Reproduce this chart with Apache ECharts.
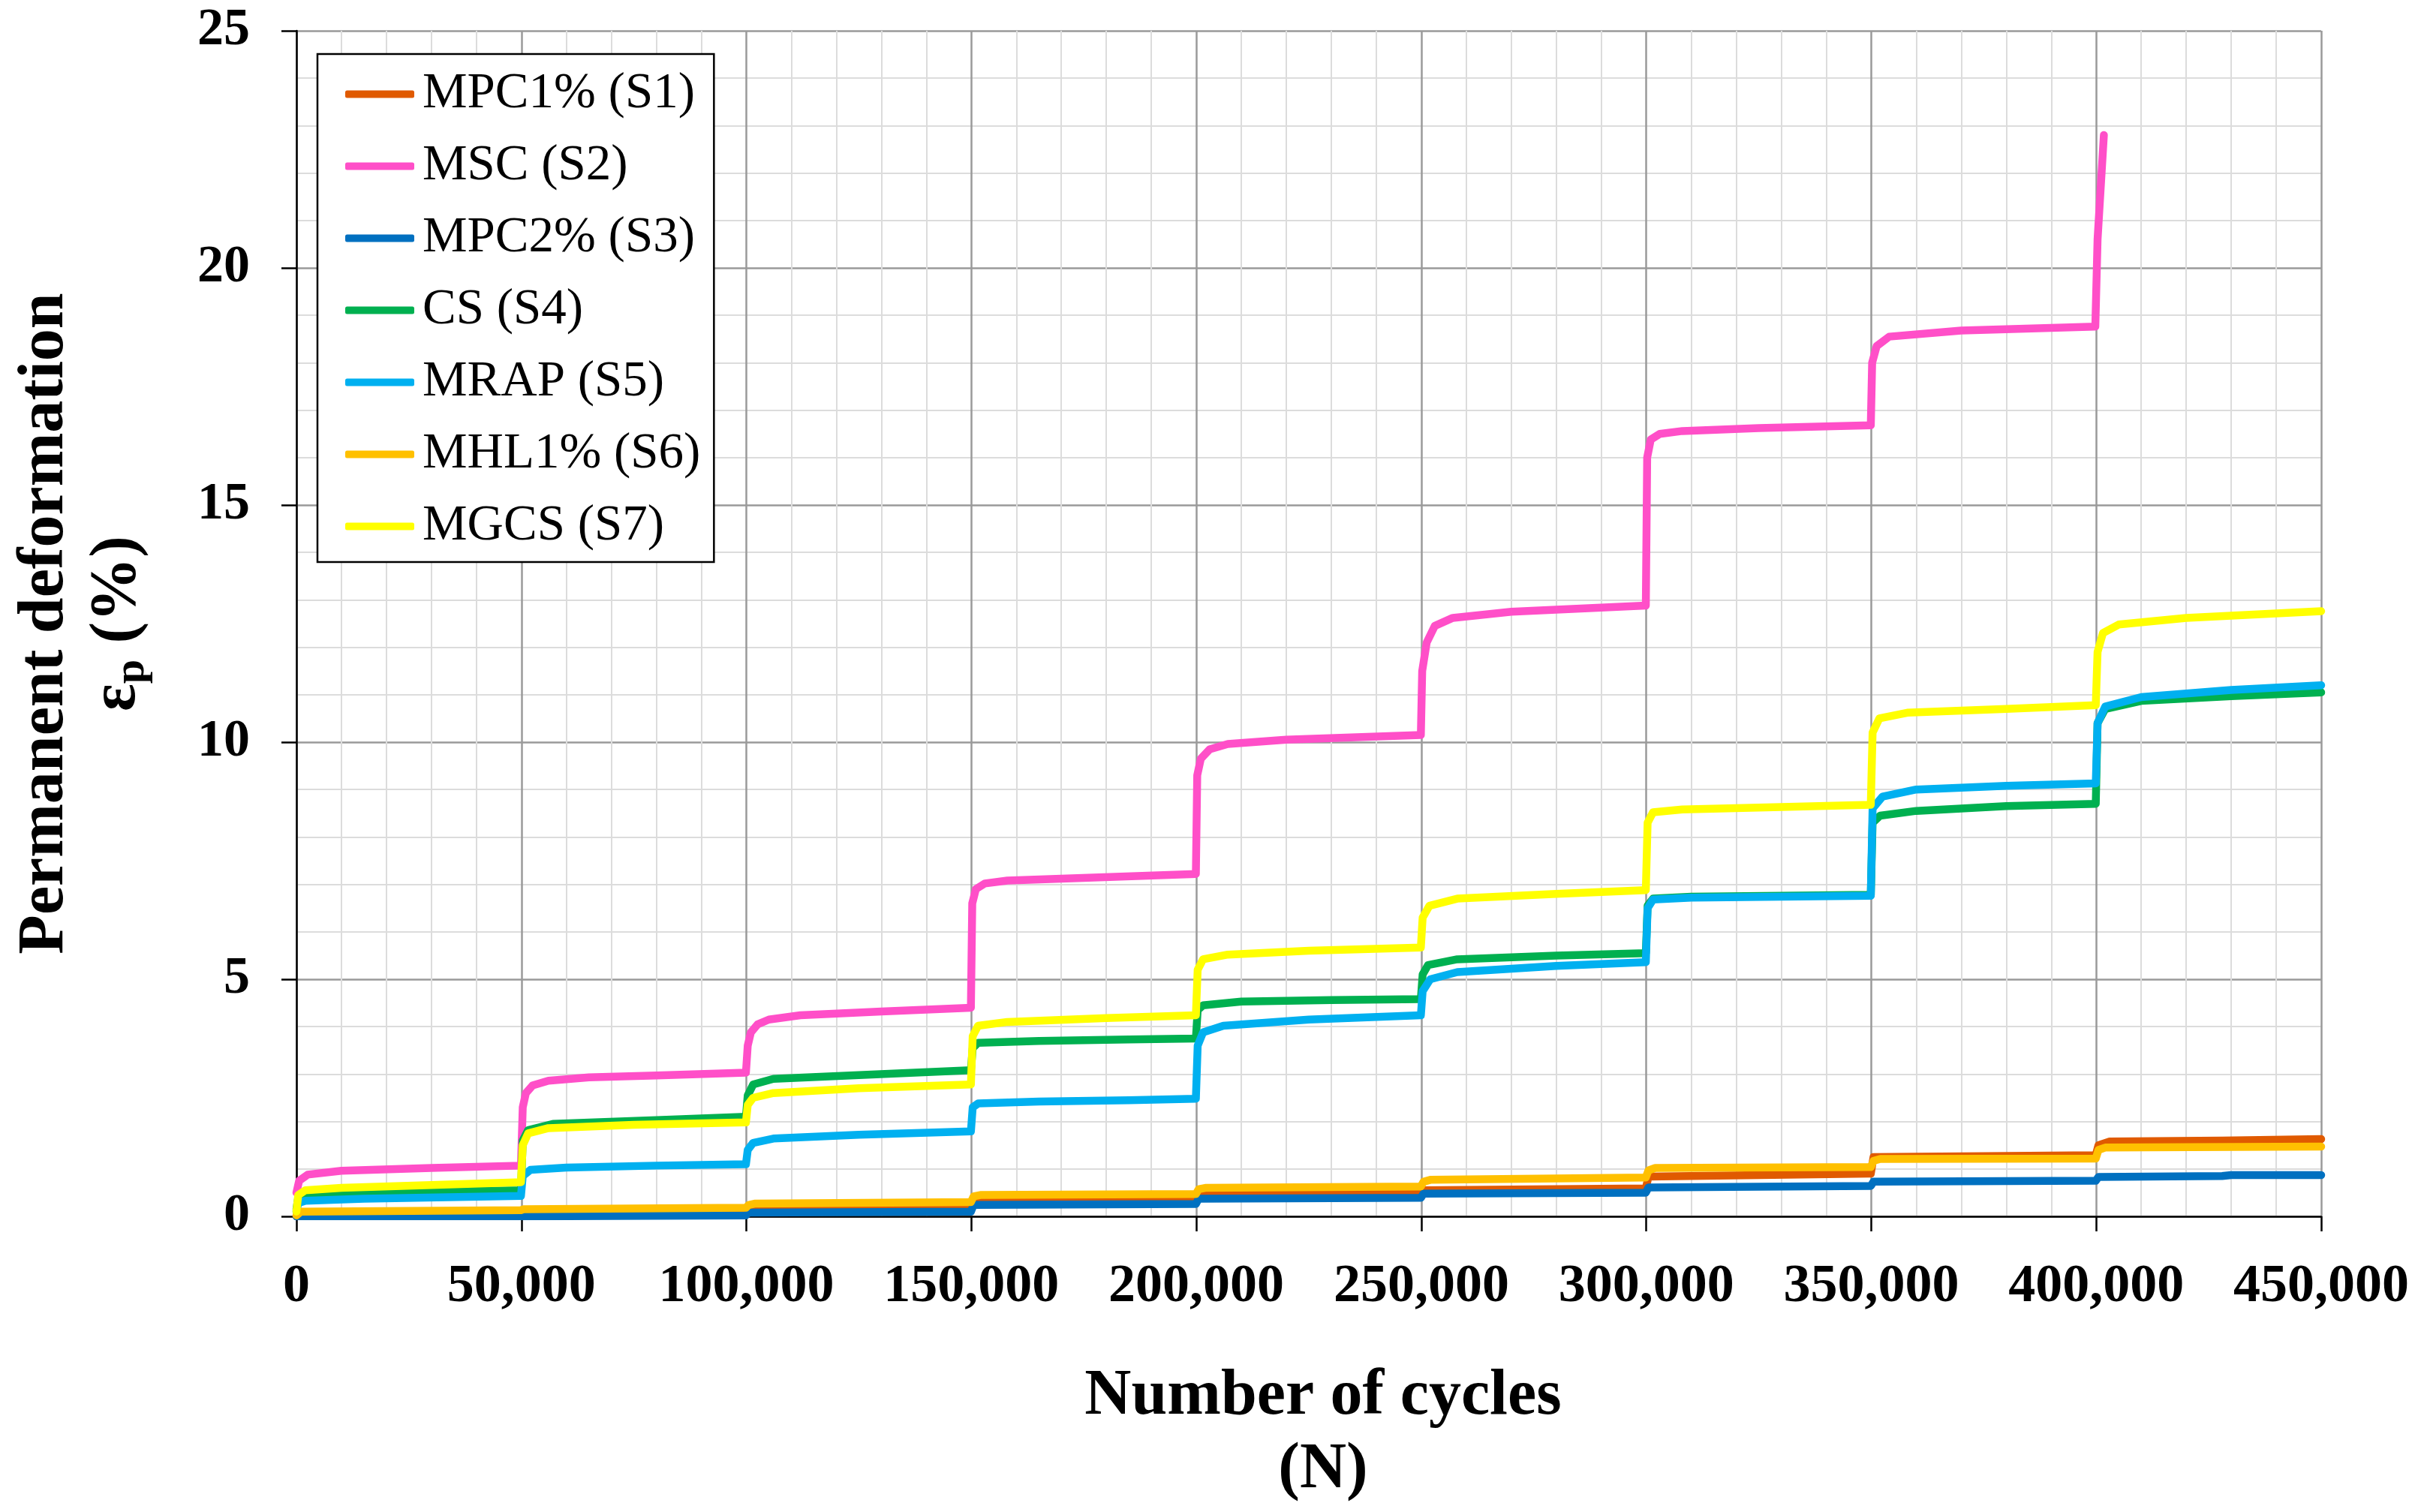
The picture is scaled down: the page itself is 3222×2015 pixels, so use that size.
<!DOCTYPE html>
<html>
<head>
<meta charset="utf-8">
<script src="https://cdn.jsdelivr.net/npm/echarts@6/dist/echarts.min.js"></script>
<style>
html,body{margin:0;padding:0;background:#fff;}
#chart{width:3222px;height:2015px;}
</style>
</head>
<body>
<div id="chart"></div>
<script>
// ---- data (N cycles, permanent deformation %) ----
const seriesNames = ['MPC1% (S1)', 'MSC (S2)', 'MPC2% (S3)', 'CS (S4)', 'MRAP (S5)', 'MHL1% (S6)', 'MGCS (S7)'];
const xTicks = [0, 50000, 100000, 150000, 200000, 250000, 300000, 350000, 400000, 450000];
const yTicks = [0, 5, 10, 15, 20, 25];

const mpc1 = [[0,0.0],[1000,0.06],[49900,0.08],[50500,0.1],[99900,0.12],[100500,0.18],[149900,0.22],
  [150500,0.33],[199900,0.36],[200500,0.45],[249900,0.48],[250500,0.55],[299900,0.59],
  [300500,0.84],[349900,0.9],[350500,1.25],[399900,1.29],[400500,1.5],[403000,1.58],[428000,1.6],[450000,1.63]];

const msc = [[0,0.5],[600,0.75],[2500,0.88],[10000,0.96],[30000,1.02],[49900,1.07],
  [50300,2.3],[51000,2.6],[52500,2.76],[56000,2.86],[65000,2.93],[80000,2.97],[99900,3.03],
  [100300,3.6],[101000,3.88],[102500,4.05],[105000,4.15],[112000,4.24],[130000,4.32],[149900,4.4],
  [150200,6.6],[151000,6.9],[153000,7.02],[158000,7.08],[170000,7.12],[199900,7.22],
  [200200,9.3],[201000,9.65],[203000,9.85],[207000,9.96],[220000,10.05],[249900,10.15],
  [250200,11.5],[251200,12.1],[253000,12.45],[257000,12.62],[270000,12.75],[299900,12.88],
  [300200,16.0],[301000,16.38],[303000,16.5],[308000,16.56],[325000,16.62],[349900,16.68],
  [350200,18.0],[351200,18.35],[354000,18.55],[370000,18.68],[399800,18.76],
  [400300,20.6],[401700,22.8]];

const mpc2 = [[0,0.0],[49900,0.0],[50500,0.0],[99900,0.02],[100500,0.08],[149900,0.1],
  [150500,0.24],[199900,0.26],[200500,0.37],[249900,0.39],[250500,0.48],[299900,0.5],
  [300500,0.61],[349900,0.64],[350500,0.73],[399900,0.75],[400500,0.83],[428000,0.85],[430000,0.87],[450000,0.87]];

const cs = [[0,0.15],[400,0.4],[2000,0.45],[15000,0.5],[49900,0.55],
  [50300,1.6],[51500,1.82],[57000,1.95],[80000,2.03],[99900,2.1],
  [100300,2.55],[101500,2.78],[106000,2.9],[125000,2.98],[149900,3.08],
  [150300,3.55],[151500,3.66],[165000,3.7],[185000,3.73],[199900,3.75],
  [200300,4.35],[201500,4.45],[210000,4.53],[230000,4.56],[249900,4.58],
  [250300,5.1],[251500,5.3],[258000,5.42],[280000,5.5],[299900,5.55],
  [300300,6.55],[301500,6.7],[310000,6.74],[330000,6.76],[349900,6.78],
  [350300,8.3],[352000,8.45],[360000,8.55],[380000,8.65],[399900,8.7],
  [400300,10.4],[402000,10.7],[410000,10.87],[430000,10.97],[450000,11.05]];

const mrap = [[0,0.1],[400,0.28],[2000,0.33],[15000,0.37],[49900,0.43],
  [50300,0.85],[52000,0.98],[60000,1.03],[80000,1.07],[99900,1.1],
  [100300,1.4],[101500,1.55],[106000,1.64],[125000,1.72],[149900,1.79],
  [150300,2.3],[151500,2.38],[165000,2.42],[185000,2.45],[199900,2.48],
  [200300,3.6],[201500,3.88],[206000,4.02],[225000,4.15],[249900,4.24],
  [250300,4.75],[252000,5.0],[258000,5.15],[280000,5.28],[299900,5.36],
  [300300,6.5],[301500,6.68],[310000,6.72],[330000,6.74],[349900,6.76],
  [350300,8.6],[352500,8.85],[360000,9.0],[380000,9.08],[399900,9.13],
  [400300,10.4],[402000,10.75],[410000,10.95],[430000,11.1],[450000,11.2]];

const mhl1 = [[0,0.02],[1000,0.1],[49900,0.13],[50500,0.15],[99900,0.18],
  [100500,0.24],[102000,0.27],[149900,0.3],[150500,0.42],[152000,0.45],[199900,0.47],
  [200500,0.57],[202000,0.6],[249900,0.63],[250500,0.73],[252000,0.77],[299900,0.82],
  [300500,0.97],[302000,1.02],[349900,1.04],[350500,1.17],[352000,1.21],[399900,1.22],
  [400500,1.4],[402000,1.45],[450000,1.47]];

const mgcs = [[0,0.1],[400,0.45],[2000,0.55],[10000,0.6],[30000,0.66],[49900,0.72],
  [50300,1.5],[51500,1.75],[56000,1.86],[75000,1.93],[99900,1.98],
  [100300,2.35],[101500,2.5],[106000,2.6],[125000,2.7],[149900,2.78],
  [150300,3.8],[151500,4.02],[158000,4.1],[180000,4.18],[199900,4.24],
  [200300,5.2],[201500,5.42],[207000,5.52],[225000,5.6],[249900,5.67],
  [250300,6.3],[251800,6.55],[258000,6.7],[280000,6.8],[299900,6.88],
  [300300,8.3],[301500,8.52],[308000,8.58],[330000,8.63],[349900,8.68],
  [350300,10.2],[351800,10.5],[358000,10.62],[380000,10.7],[399900,10.78],
  [400300,11.9],[401500,12.3],[405000,12.48],[420000,12.62],[450000,12.76]];

const seriesData = [mpc1, msc, mpc2, cs, mrap, mhl1, mgcs];
const seriesColors = ['#E05A00', '#FF4FC8', '#0070C0', '#00B050', '#00B0F0', '#FFC000', '#FFFF00'];

const FONT = 'Liberation Serif';

function fmtThousands(v) {
  return String(Math.round(v)).replace(/\B(?=(\d{3})+(?!\d))/g, ',');
}

const chart = echarts.init(document.getElementById('chart'), null, {renderer: 'canvas'});

const option = {
  animation: false,
  backgroundColor: '#ffffff',
  grid: {left: 395, right: 129, top: 41, bottom: 394, containLabel: false},
  legend: {
    show: true,
    orient: 'vertical',
    left: 423,
    top: 72,
    data: seriesNames,
    icon: 'roundRect',
    itemWidth: 92,
    itemHeight: 10,
    itemGap: 29,
    padding: [20, 18, 14, 37],
    backgroundColor: '#ffffff',
    borderColor: '#000000',
    borderWidth: 2.5,
    borderRadius: 0,
    textStyle: {fontFamily: FONT, fontSize: 67, color: '#000', padding: [0, 0, 0, 6]}
  },
  xAxis: {
    type: 'value',
    min: 0,
    max: 450000,
    interval: 50000,
    name: 'Number of cycles\n(N)',
    nameLocation: 'middle',
    nameGap: 192,
    nameTextStyle: {fontFamily: FONT, fontSize: 86, fontWeight: 'bold', color: '#000', lineHeight: 98, padding: [0, 0, 0, 38]},
    axisLine: {show: true, onZero: false, lineStyle: {color: '#000', width: 2.5}},
    axisTick: {show: true, inside: false, length: 20, lineStyle: {color: '#000', width: 2.5}},
    axisLabel: {
      margin: 58,
      fontFamily: FONT, fontSize: 72, fontWeight: 'bold', color: '#000',
      formatter: function (v) { return fmtThousands(v); }
    },
    splitLine: {show: true, lineStyle: {color: '#9a9a9a', width: 2.5}},
    minorTick: {show: false, splitNumber: 5},
    minorSplitLine: {show: true, lineStyle: {color: '#dcdcdc', width: 2}}
  },
  yAxis: {
    type: 'value',
    min: 0,
    max: 25,
    interval: 5,
    name: '{t|Permanent deformation}\n{t|ε}{s|p}{t| (%)}',
    nameLocation: 'middle',
    nameRotate: 90,
    nameGap: 190,
    nameTextStyle: {
      fontFamily: FONT, fontSize: 86, fontWeight: 'bold', color: '#000', lineHeight: 96,
      rich: {
        t: {fontFamily: FONT, fontSize: 86, fontWeight: 'bold', color: '#000', lineHeight: 96},
        s: {fontFamily: FONT, fontSize: 58, fontWeight: 'bold', color: '#000', lineHeight: 50, verticalAlign: 'bottom'}
      }
    },
    axisLine: {show: true, onZero: false, lineStyle: {color: '#000', width: 2.5}},
    axisTick: {show: true, inside: false, length: 20, lineStyle: {color: '#000', width: 2.5}},
    axisLabel: {
      margin: 62,
      fontFamily: FONT, fontSize: 70, fontWeight: 'bold', color: '#000'
    },
    splitLine: {show: true, lineStyle: {color: '#9a9a9a', width: 2.5}},
    minorTick: {show: false, splitNumber: 5},
    minorSplitLine: {show: true, lineStyle: {color: '#dcdcdc', width: 2}}
  },
  series: seriesNames.map(function (name, i) {
    return {
      name: name,
      type: 'line',
      data: seriesData[i],
      showSymbol: false,
      symbol: 'none',
      smooth: false,
      color: seriesColors[i],
      lineStyle: {color: seriesColors[i], width: 10.5, cap: 'round', join: 'round'},
      z: 2 + i
    };
  })
};

chart.setOption(option);
</script>
</body>
</html>
